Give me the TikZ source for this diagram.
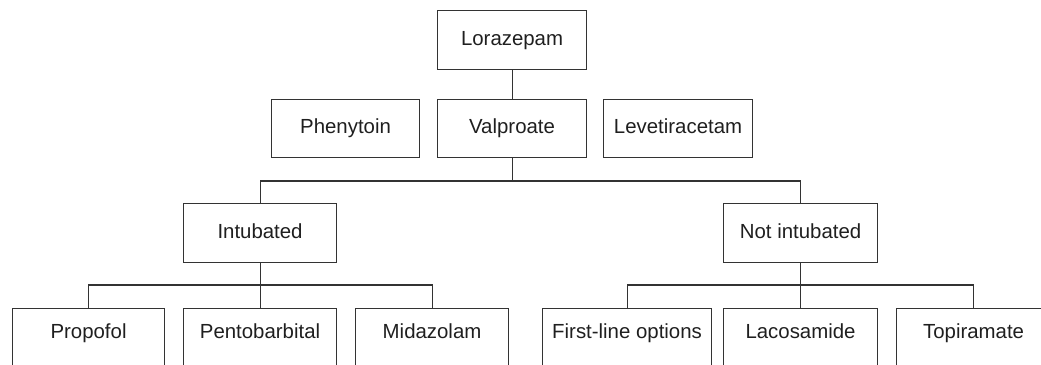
\documentclass[tikz,border=0pt]{standalone}
\usepackage{fontspec}
\setmainfont{Liberation Sans}
\begin{document}
\begin{tikzpicture}[x=1pt,y=-1pt,
  box/.style={draw=black!80, line width=1.1pt, inner sep=0pt, font=\fontsize{20.4}{23}\selectfont, text=black!88, text height=14.5pt, text depth=4pt},
  lowbox/.style={box, text depth=13pt},
  conn/.style={draw=black!80, line width=1.1pt}]
\useasboundingbox (0,0) rectangle (1041,364);
\clip (0,0) rectangle (1041,364);
\newcommand{\mybox}[7]{%
  \node[#7, minimum width=#4-#2, minimum height=#5-#3, anchor=north west] (#1) at (#2,#3) {#6};}
\mybox{lor}{437}{10}{586}{69}{Lorazepam}{box}
\mybox{phe}{271}{99}{419}{157}{Phenytoin}{box}
\mybox{val}{437}{99}{586}{157}{Valproate}{box}
\mybox{lev}{603}{99}{752}{157}{Levetiracetam}{box}
\mybox{int}{183}{203}{336}{262}{Intubated}{box}
\mybox{nint}{723}{203}{877}{262}{Not intubated}{box}
\mybox{pro}{12}{308}{164}{367}{Propofol}{lowbox}
\mybox{pen}{183}{308}{336}{367}{Pentobarbital}{lowbox}
\mybox{mid}{355}{308}{508}{367}{Midazolam}{lowbox}
\mybox{fir}{542}{308}{711}{367}{First-line options}{lowbox}
\mybox{lac}{723}{308}{877}{367}{Lacosamide}{lowbox}
\mybox{top}{896}{308}{1050}{367}{Topiramate}{lowbox}
% connectors
\draw[conn] (lor.south) -- (val.north);
\coordinate (j1) at (val.south |- 0,181);
\draw[conn] (val.south) -- (j1);
\draw[conn] (int.north) |- (j1) -| (nint.north);
\coordinate (j2) at (int.south |- 0,285);
\draw[conn] (int.south) -- (int.south |- pen.north);
\draw[conn] (pro.north) |- (j2) -| (mid.north);
\coordinate (j3) at (nint.south |- 0,285);
\draw[conn] (nint.south) -- (nint.south |- lac.north);
\draw[conn] (fir.north) |- (j3) -| (top.north);
\end{tikzpicture}
\end{document}
